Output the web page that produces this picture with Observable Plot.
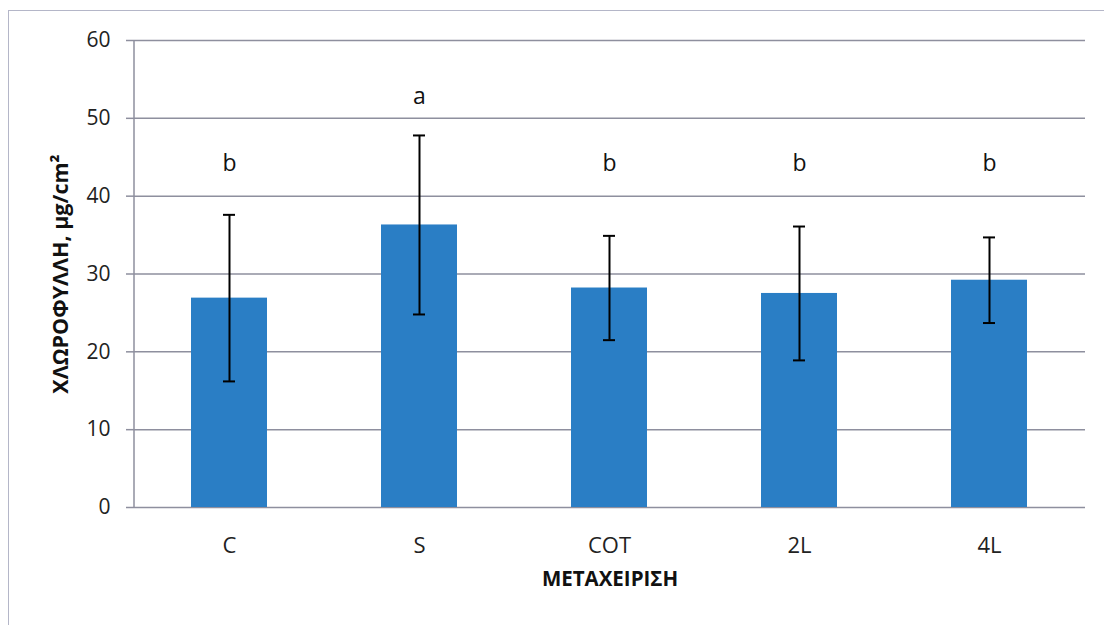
<!DOCTYPE html>
<html>
<head>
<meta charset="utf-8">
<script src="https://cdn.jsdelivr.net/npm/d3@7"></script>
<script src="https://cdn.jsdelivr.net/npm/@observablehq/plot@0.6"></script>
<style>
  html, body { margin: 0; padding: 0; background: #fff; }
  #wrap { position: relative; width: 1104px; height: 625px; overflow: hidden; }
  #border { position: absolute; left: 8px; top: 10px; width: 1110px; height: 640px;
            border: 1.5px solid #b4b6c8; box-sizing: border-box; }
  #chart { position: absolute; left: 0; top: 0; }
</style>
</head>
<body>
<div id="wrap">
  <div id="border"></div>
  <div id="chart"></div>
</div>
<script>
// Chlorophyll content per treatment: mean, standard deviation, significance group
const treatments = ["C", "S", "COT", "2L", "4L"];
const means = [26.9, 36.3, 28.2, 27.5, 29.2];
const sds = [10.7, 11.5, 6.7, 8.6, 5.5];
const groups = ["b", "a", "b", "b", "b"];
const yTicks = [0, 10, 20, 30, 40, 50, 60];

const rows = treatments.map((t, i) => ({
  t,
  mean: means[i],
  lo: means[i] - sds[i],
  hi: means[i] + sds[i],
  group: groups[i]
}));

const font = "'Open Sans', 'DejaVu Sans', sans-serif";
const grid = "#8e8f9e";

const chart = Plot.plot({
  width: 1104,
  height: 625,
  marginLeft: 134,
  marginRight: 19,
  marginTop: 40,
  marginBottom: 118,
  style: { fontFamily: font, background: "transparent", overflow: "visible" },
  x: { domain: treatments, paddingInner: 0.6, paddingOuter: 0.3, label: null },
  y: { domain: [0, 60], label: null },
  marks: [
    Plot.gridY(yTicks, { stroke: grid, strokeOpacity: 1, strokeWidth: 1.5 }),
    Plot.axisY(yTicks, { tickSize: 8, tickPadding: 16, fontSize: 21, fill: "#222", stroke: grid, strokeWidth: 1.5, strokeOpacity: 1, tickFormat: d => d }),
    Plot.axisX({ tickSize: 0, tickPadding: 30, fontSize: 22, fill: "#222" }),
    Plot.barY(rows, { x: "t", y: "mean", fill: "#2a7ec5" }),
    Plot.ruleX(rows, { x: "t", y1: "lo", y2: "hi", stroke: "#000", strokeWidth: 2 }),
    Plot.tickY(rows, { x: "t", y: "hi", stroke: "#000", strokeWidth: 2, insetLeft: 32, insetRight: 32 }),
    Plot.tickY(rows, { x: "t", y: "lo", stroke: "#000", strokeWidth: 2, insetLeft: 32, insetRight: 32 }),
    Plot.text(rows, { x: "t", y: d => Math.max(44.2, d.hi + 5), text: "group", fontSize: 23, fill: "#111" }),
    Plot.text(["ΜΕΤΑΧΕΙΡΙΣΗ"], { frameAnchor: "bottom", dy: 78, fontSize: 20.5, fontWeight: "bold", fill: "#111" }),
    Plot.text(["ΧΛΩΡΟΦΥΛΛΗ, μg/cm²"], { frameAnchor: "left", textAnchor: "middle", dx: -73, rotate: -90, fontSize: 21.5, fontWeight: "bold", fill: "#111", letterSpacing: "1.8px" })
  ]
});

// vertical axis line along the left edge of the plot area
d3.select(chart).append("line")
  .attr("x1", 134).attr("x2", 134)
  .attr("y1", 40).attr("y2", 507)
  .attr("stroke", grid).attr("stroke-width", 1.5);

document.getElementById("chart").appendChild(chart);
</script>
</body>
</html>
